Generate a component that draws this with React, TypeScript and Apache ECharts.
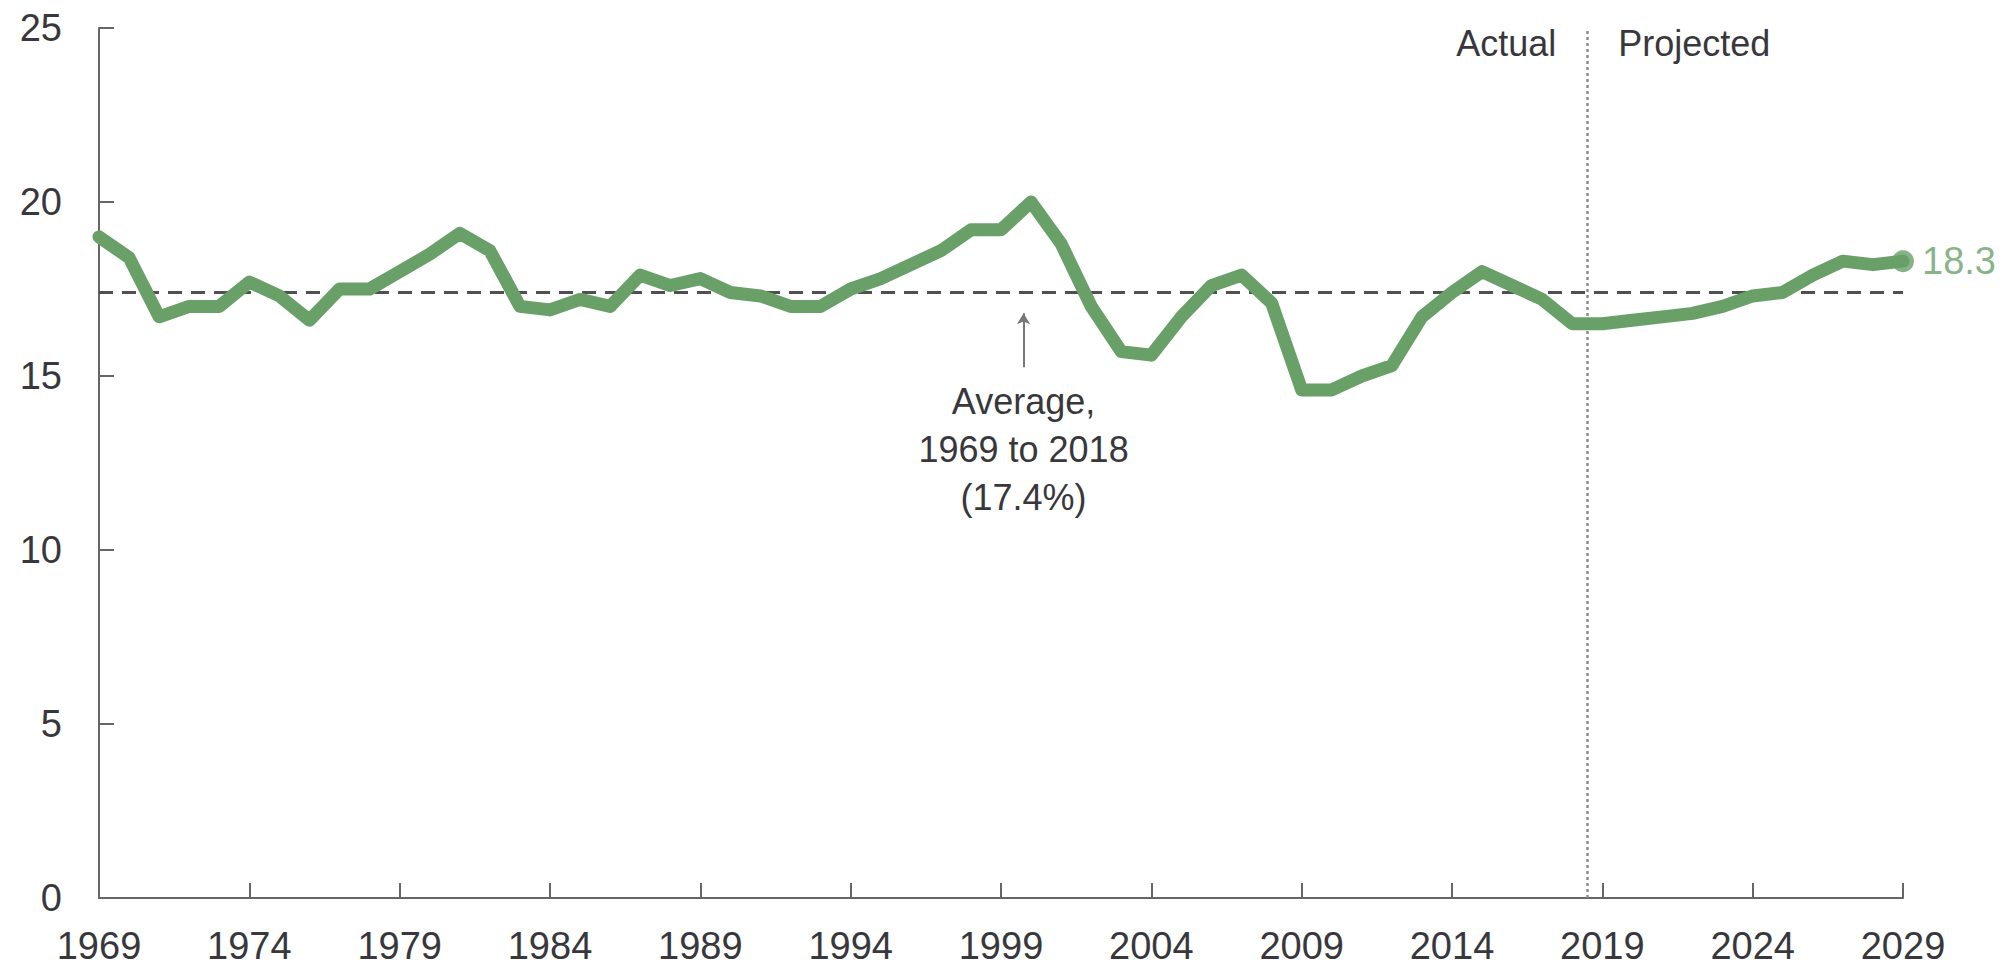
import React, { useEffect, useRef } from "react";
import * as echarts from "echarts";

const years = [
  1969, 1970, 1971, 1972, 1973, 1974, 1975, 1976, 1977, 1978,
  1979, 1980, 1981, 1982, 1983, 1984, 1985, 1986, 1987, 1988,
  1989, 1990, 1991, 1992, 1993, 1994, 1995, 1996, 1997, 1998,
  1999, 2000, 2001, 2002, 2003, 2004, 2005, 2006, 2007, 2008,
  2009, 2010, 2011, 2012, 2013, 2014, 2015, 2016, 2017, 2018,
  2019, 2020, 2021, 2022, 2023, 2024, 2025, 2026, 2027, 2028, 2029,
];

const revenues = [
  19.0, 18.4, 16.7, 17.0, 17.0, 17.7, 17.3, 16.6, 17.5, 17.5,
  18.0, 18.5, 19.1, 18.6, 17.0, 16.9, 17.2, 17.0, 17.9, 17.6,
  17.8, 17.4, 17.3, 17.0, 17.0, 17.5, 17.8, 18.2, 18.6, 19.2,
  19.2, 20.0, 18.8, 17.0, 15.7, 15.6, 16.7, 17.6, 17.9, 17.1,
  14.6, 14.6, 15.0, 15.3, 16.7, 17.4, 18.0, 17.6, 17.2, 16.5,
  16.5, 16.6, 16.7, 16.8, 17.0, 17.3, 17.4, 17.9, 18.3, 18.2, 18.3,
];

const yMin = 0;
const yMax = 25;
const yStep = 5;
const xMin = 1969;
const xMax = 2029;
const xStep = 5;

const averageValue = 17.4;
const averageLabel = ["Average,", "1969 to 2018", "(17.4%)"];
const splitYear = 2018.5;
const annotationYear = 1999.75;
const arrowFrom = 15.25;
const arrowTo = 16.8;
const endLabel = "18.3";

const GREEN = "#68a068";
const TEXT = "#38383c";
const AXIS = "#666666";
const FONT = "'Liberation Sans', Arial, sans-serif";

export default function App() {
  const ref = useRef<HTMLDivElement>(null);

  useEffect(() => {
    if (!ref.current) return;
    const chart = echarts.init(ref.current, null, { renderer: "svg" });
    const lineData = years.map((y, i) => [y, revenues[i]]);
    const last = lineData[lineData.length - 1];

    chart.setOption({
      animation: false,
      backgroundColor: "#ffffff",
      grid: { left: 99, right: 108, top: 28, bottom: 75, containLabel: false },
      xAxis: {
        type: "value",
        min: xMin,
        max: xMax,
        interval: xStep,
        axisLine: { show: true, lineStyle: { color: AXIS, width: 2 } },
        axisTick: { show: true, inside: true, length: 15, lineStyle: { color: AXIS, width: 2 } },
        splitLine: { show: false },
        axisLabel: {
          color: TEXT,
          fontSize: 38,
          fontFamily: FONT,
          margin: 29,
          formatter: (v: number) => String(v),
        },
      },
      yAxis: {
        type: "value",
        min: yMin,
        max: yMax,
        interval: yStep,
        axisLine: { show: true, lineStyle: { color: AXIS, width: 2 } },
        axisTick: { show: true, inside: true, length: 15, lineStyle: { color: AXIS, width: 2 } },
        splitLine: { show: false },
        axisLabel: { color: TEXT, fontSize: 38, fontFamily: FONT, margin: 37 },
      },
      series: [
        {
          type: "line",
          data: [],
          silent: true,
          markLine: {
            silent: true,
            symbol: "none",
            label: { show: false },
            lineStyle: { color: "#8c8c8c", width: 2.5, type: [3, 3] },
            data: [[{ coord: [splitYear, yMin] }, { coord: [splitYear, yMax] }]],
          },
        },
        {
          type: "line",
          data: [],
          silent: true,
          markLine: {
            silent: true,
            symbol: "none",
            label: { show: false },
            lineStyle: { color: "#505050", width: 3, type: [14, 9] },
            data: [[{ coord: [xMin, averageValue] }, { coord: [xMax, averageValue] }]],
          },
        },
        {
          type: "line",
          data: [],
          silent: true,
          markLine: {
            silent: true,
            symbol: ["none", "arrow"],
            symbolSize: [10, 11],
            label: { show: false },
            lineStyle: { color: "#777777", width: 2, type: "solid" },
            data: [[{ coord: [annotationYear, arrowFrom] }, { coord: [annotationYear, arrowTo] }]],
          },
        },
        {
          type: "line",
          data: lineData,
          symbol: "none",
          lineStyle: { color: GREEN, width: 13, cap: "round", join: "round" },
          z: 5,
        },
        {
          type: "scatter",
          data: [last],
          symbol: "circle",
          symbolSize: 22,
          itemStyle: { color: GREEN },
          z: 6,
          label: {
            show: true,
            position: "right",
            distance: 8,
            formatter: endLabel,
            color: GREEN,
            fontSize: 38,
            fontFamily: FONT,
          },
        },
      ],
    });

    const arrowBottom = chart.convertToPixel({ xAxisIndex: 0, yAxisIndex: 0 }, [annotationYear, arrowFrom]) as number[];
    const splitTop = chart.convertToPixel({ xAxisIndex: 0, yAxisIndex: 0 }, [splitYear, yMax]) as number[];

    chart.setOption({
      graphic: [
        {
          type: "text",
          x: arrowBottom[0],
          y: arrowBottom[1] + 10,
          style: {
            text: averageLabel.join("\n"),
            fill: TEXT,
            fontSize: 36,
            fontFamily: FONT,
            lineHeight: 48,
            textAlign: "center",
            textVerticalAlign: "top",
          },
        },
        {
          type: "text",
          x: splitTop[0] - 31,
          y: splitTop[1] + 15,
          style: {
            text: "Actual",
            fill: TEXT,
            fontSize: 36,
            fontFamily: FONT,
            textAlign: "right",
            textVerticalAlign: "middle",
          },
        },
        {
          type: "text",
          x: splitTop[0] + 31,
          y: splitTop[1] + 15,
          style: {
            text: "Projected",
            fill: TEXT,
            fontSize: 36,
            fontFamily: FONT,
            textAlign: "left",
            textVerticalAlign: "middle",
          },
        },
      ],
    });

    return () => chart.dispose();
  }, []);

  return (
    <div
      ref={ref}
      style={{ position: "absolute", left: 0, top: 0, width: 2011, height: 973, background: "#fff" }}
    />
  );
}
